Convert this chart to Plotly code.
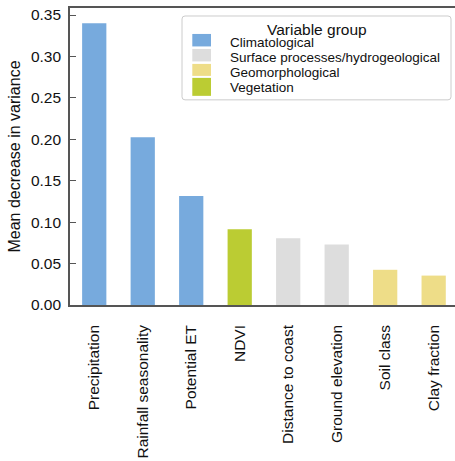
import plotly.graph_objects as go

variables = ["Precipitation", "Rainfall seasonality", "Potential ET", "NDVI",
             "Distance to coast", "Ground elevation", "Soil class", "Clay fraction"]
importance = [0.340, 0.2025, 0.1315, 0.0915, 0.0805, 0.0730, 0.0425, 0.0355]
groups = ["Climatological", "Climatological", "Climatological", "Vegetation",
          "Surface processes/hydrogeological", "Surface processes/hydrogeological",
          "Geomorphological", "Geomorphological"]
group_order = ["Climatological", "Surface processes/hydrogeological",
               "Geomorphological", "Vegetation"]
group_colors = {"Climatological": "#77AADD",
                "Surface processes/hydrogeological": "#DDDDDD",
                "Geomorphological": "#EEDD88",
                "Vegetation": "#BBCC33"}
y_ticks = [0.00, 0.05, 0.10, 0.15, 0.20, 0.25, 0.30, 0.35]
legend_title = "Variable group"

FONT = "Liberation Sans, Arial, sans-serif"
AX = "#555555"
W, H = 455, 461
ML, MR, MT, MB = 70, 0, 8, 155.5
PW, PH = W - ML - MR, H - MT - MB


def px(x):
    return (x - ML) / PW


def py(y):
    return (H - MB - y) / PH


fig = go.Figure()
for g in group_order:
    xs = [v for v, gg in zip(variables, groups) if gg == g]
    ys = [val for val, gg in zip(importance, groups) if gg == g]
    fig.add_trace(go.Bar(x=xs, y=ys, name=g, width=0.5, showlegend=False,
                         marker=dict(color=group_colors[g], line=dict(width=0))))

# legend drawn manually (matplotlib-style compact legend)
shapes = []
annots = []
x0, x1, y0, y1, r = 182, 451, 16, 100, 3
path = (f"M {px(x0 + r)} {py(y0)} L {px(x1 - r)} {py(y0)} "
        f"Q {px(x1)} {py(y0)} {px(x1)} {py(y0 + r)} L {px(x1)} {py(y1 - r)} "
        f"Q {px(x1)} {py(y1)} {px(x1 - r)} {py(y1)} L {px(x0 + r)} {py(y1)} "
        f"Q {px(x0)} {py(y1)} {px(x0)} {py(y1 - r)} L {px(x0)} {py(y0 + r)} "
        f"Q {px(x0)} {py(y0)} {px(x0 + r)} {py(y0)} Z")
shapes.append(dict(type="path", xref="paper", yref="paper", path=path,
                   line=dict(color="#CCCCCC", width=1), fillcolor="white", layer="above"))
annots.append(dict(text=legend_title, xref="paper", yref="paper", x=px(316.5), y=py(29.5),
                   xanchor="center", yanchor="middle", showarrow=False,
                   font=dict(size=15.5, family=FONT, color="#111111")))
sw = [(34, 46.5), (49, 61.5), (64, 76), (78, 96)]
ty = [43, 57.8, 72.5, 87.8]
for g, (s0, s1), t in zip(group_order, sw, ty):
    shapes.append(dict(type="rect", xref="paper", yref="paper",
                       x0=px(192.3), x1=px(211), y0=py(s1), y1=py(s0),
                       fillcolor=group_colors[g], line=dict(width=0), layer="above"))
    annots.append(dict(text=g, xref="paper", yref="paper", x=px(227.5), y=py(t),
                       xanchor="left", yanchor="middle", showarrow=False,
                       font=dict(size=13.5, family=FONT, color="#111111")))

fig.update_layout(
    width=W, height=H,
    margin=dict(l=ML, r=MR, t=MT, b=MB, autoexpand=False),
    barmode="relative",
    plot_bgcolor="white", paper_bgcolor="white",
    font=dict(family=FONT, color="#111111"),
    showlegend=False,
    shapes=shapes, annotations=annots,
)
fig.update_xaxes(
    categoryorder="array", categoryarray=variables,
    range=[-0.5, 7.44], tickangle=-90, ticks="",
    tickfont=dict(size=15.5), showline=True, linecolor=AX, linewidth=1.6,
    mirror=True, showgrid=False, zeroline=False, ticklabelstandoff=12,
    automargin=False,
)
fig.update_yaxes(
    range=[0, 0.3585], tickvals=y_ticks, tickformat=".2f",
    ticks="inside", ticklen=6, tickwidth=1.3, tickcolor=AX,
    tickfont=dict(size=15.5), showline=True, linecolor=AX, linewidth=1.6,
    showgrid=False, zeroline=False, ticklabelstandoff=4, automargin=False,
    title=dict(text="Mean decrease in variance", font=dict(size=16), standoff=6),
)
fig.write_html("out.html", config={"displayModeBar": False},
               post_script="document.body.style.margin='0';document.body.style.overflow='hidden';")
